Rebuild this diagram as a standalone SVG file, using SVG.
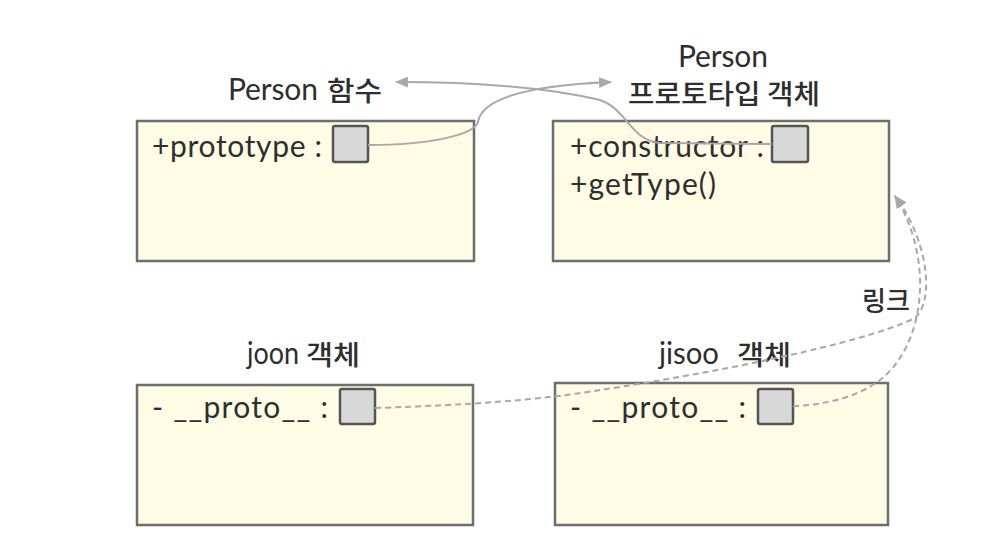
<svg xmlns="http://www.w3.org/2000/svg" width="1004" height="560" viewBox="0 0 1004 560">
<defs>
<style>
.box{fill:#fefce4;stroke:#6e6e6e;stroke-width:2.5}
.slot{fill:#d8d8d8;stroke:#555;stroke-width:2.5}
.t{font-family:"Lato","Noto Sans CJK KR",sans-serif;font-size:30px;fill:#2e2e2e}
.k{font-family:"Noto Sans CJK KR","Lato",sans-serif;font-size:27px;font-weight:500;fill:#2e2e2e}
.solid{fill:none;stroke:#a8a8a8;stroke-width:2}
.dash{fill:none;stroke:#a8a8a8;stroke-width:2;stroke-dasharray:6 4}
</style>
<marker id="ah" viewBox="0 0 12 10" refX="11" refY="5" markerWidth="13" markerHeight="11" markerUnits="userSpaceOnUse" orient="auto">
<path d="M0,0 L12,5 L0,10 Z" fill="#a8a8a8"/>
</marker>
</defs>
<rect width="1004" height="560" fill="#ffffff"/>

<g id="person-function">
<text class="t" x="228" y="100" font-size="29" textLength="90">Person</text>
<text class="k" x="327" y="101" textLength="55" lengthAdjust="spacingAndGlyphs">함수</text>
<rect class="box" x="137" y="121" width="337" height="140"/>
<text class="t" x="152" y="157" textLength="170">+prototype :</text>
<rect class="slot" x="333" y="126" width="35" height="36" rx="2"/>
</g>

<g id="person-prototype">
<text class="t" x="678" y="67" font-size="29" textLength="90">Person</text>
<text class="k" x="628" y="104" textLength="192" lengthAdjust="spacingAndGlyphs">프로토타입 객체</text>
<rect class="box" x="553" y="121" width="336" height="140"/>
<text class="t" x="570" y="157" textLength="194">+constructor :</text>
<text class="t" x="570" y="195" textLength="146">+getType()</text>
<rect class="slot" x="772" y="126" width="36" height="36" rx="2"/>
</g>

<g id="link-label">
<text class="k" x="862" y="311" textLength="48" lengthAdjust="spacingAndGlyphs">링크</text>
</g>

<g id="joon">
<text class="t" x="247" y="364" font-size="29" textLength="52" lengthAdjust="spacingAndGlyphs">joon</text>
<text class="k" x="306" y="365" textLength="54" lengthAdjust="spacingAndGlyphs">객체</text>
<rect class="box" x="137" y="385" width="336" height="140"/>
<text class="t" x="152" y="418" textLength="176">- __proto__ :</text>
<rect class="slot" x="340" y="389" width="35" height="35" rx="2"/>
</g>

<g id="jisoo">
<text class="t" x="659" y="364" font-size="29" textLength="60" lengthAdjust="spacingAndGlyphs">jisoo</text>
<text class="k" x="737" y="365" textLength="54" lengthAdjust="spacingAndGlyphs">객체</text>
<rect class="box" x="555" y="383" width="333" height="142"/>
<text class="t" x="570" y="418" textLength="176">- __proto__ :</text>
<rect class="slot" x="758" y="389" width="35" height="35" rx="2"/>
</g>

<g id="connectors">
<path class="solid" d="M368,145 C430,145 474,135 478,122 C482,95 540,85 611,82" marker-end="url(#ah)"/>
<path class="solid" d="M772,144 L660,143 C630,140 628,110 600,100 C540,86 470,82 396,82" marker-end="url(#ah)"/>
<path class="dash" d="M375,408 C470,405 540,400 600,390 C700,375 860,345 915,318 C935,300 928,240 895,196" marker-end="url(#ah)"/>
<path class="dash" d="M793,406 C830,405 860,395 880,380 C925,345 935,260 895,196" marker-end="url(#ah)"/>
</g>
</svg>
